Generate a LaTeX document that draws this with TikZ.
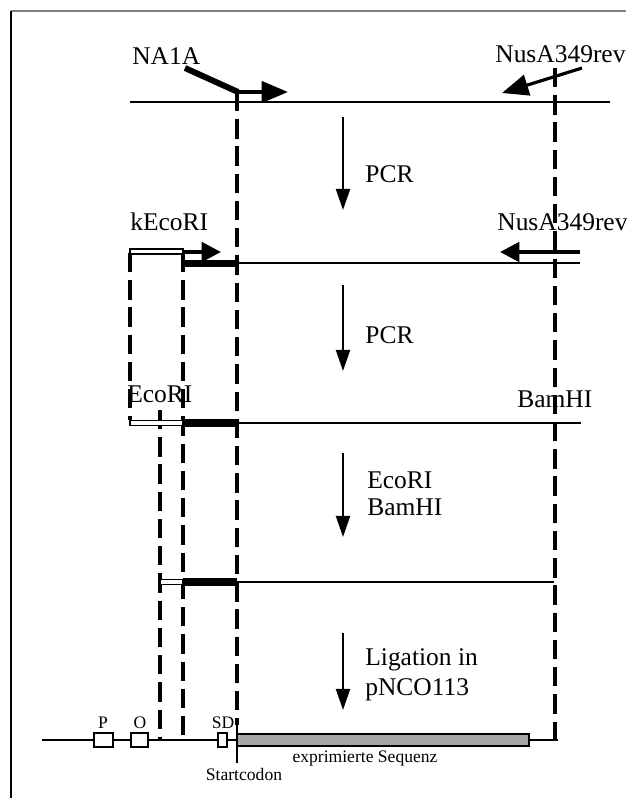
\documentclass[tikz,border=0pt]{standalone}
\usepackage{fontspec}
\setmainfont{Liberation Serif}
\usetikzlibrary{arrows.meta}
\begin{document}
\begin{tikzpicture}[
x=0.02cm, y=-0.02cm,
lbl/.style={inner sep=0pt, anchor=base west, font=\fontsize{14.5}{17}\selectfont},
small/.style={inner sep=0pt, anchor=base, font=\fontsize{10}{12}\selectfont},
dna/.style={line width=1.4pt},
insert/.style={line width=4pt},
overhang/.style={draw, fill=white, line width=0.6pt},
guide/.style={line width=2pt, dash pattern=on 11pt off 4.5pt},
primer/.style={line width=2.2pt, -{Triangle[length=11pt, width=11pt]}},
flow/.style={line width=1.1pt, -{Triangle[length=12pt, width=8pt]}},
box/.style={draw, line width=1.3pt, fill=white}
]
\useasboundingbox (0,0) rectangle (626,798);
% frame
\draw[gray, line width=0.9pt] (11,11) -- (626,11);
\draw[line width=0.9pt] (11,11) -- (11,798);

% helper lines (dashed)
\draw[guide] (237,92) -- (237,725);
\draw[guide] (555,68) -- (555,740);
\draw[guide] (130,253) -- (130,420);
\draw[guide] (183,253) -- (183,740);
\draw[guide] (160,410) -- (160,740);

% row 1: template
\draw[dna] (130,102) -- (610,102);
\node[lbl] (na1a) at (132,64) {NA1A};
\node[lbl] (nus1) at (495,62) {NusA349rev};
\draw[line width=3.4pt] (185,68) -- (238,92);
\draw[primer, -{Triangle[length=15pt, width=12pt]}] (236,92) -- (288,92);
\draw[line width=1.8pt, -{Triangle[length=15pt, width=12pt]}] (582,68) -- (502,93);
\draw[flow] (343,117) -- (343,210);
\node[lbl] (pcr1) at (365,182) {PCR};

% row 2: first product
\node[lbl] (kecori) at (130,230) {kEcoRI};
\node[lbl] (nus2) at (497,230) {NusA349rev};
\draw[overhang] (130,249) rectangle (183,254);
\draw[primer] (183,252) -- (221,252);
\draw[primer] (580,252) -- (500,252);
\draw[insert] (183,263.5) -- (237,263.5);
\draw[dna] (237,263) -- (580,263);
\draw[flow] (343,285) -- (343,371);
\node[lbl] (pcr2) at (365,343) {PCR};

% row 3: second product
\node[lbl] (ecori) at (127,402) {EcoRI};
\node[lbl] (bamhi) at (517,407) {BamHI};
\draw[overhang] (130,420.5) rectangle (183,425.5);
\draw[insert] (183,423) -- (237,423);
\draw[dna] (237,423) -- (581,423);
\draw[flow] (343,453) -- (343,537);
\node[lbl] (cut1) at (367,488) {EcoRI};
\node[lbl] (cut2) at (367,515) {BamHI};

% row 4: cut fragment
\draw[overhang] (160,579.5) rectangle (183,584.5);
\draw[insert] (183,582) -- (237,582);
\draw[dna] (237,582) -- (554,582);
\draw[flow] (343,633) -- (343,710);
\node[lbl] (lig1) at (365,665) {Ligation in};
\node[lbl] (lig2) at (365,695) {pNCO113};

% row 5: vector
\draw[dna] (42,740) -- (558,740);
\draw[box] (94,733) rectangle (113,747);
\draw[box] (131,733) rectangle (148,747);
\draw[box] (218,733) rectangle (227,747);
\draw[line width=1.3pt, fill=black!35] (237,734) rectangle (529,746);
\draw[line width=1.4pt] (237,723) -- (237,763);
\node[small] (p) at (103,728) {P};
\node[small] (o) at (140,728) {O};
\node[small] (sd) at (223,728) {SD};
\node[small] (seq) at (365,762) {exprimierte Sequenz};
\node[small] (start) at (244,780) {Startcodon};
\end{tikzpicture}
\end{document}
